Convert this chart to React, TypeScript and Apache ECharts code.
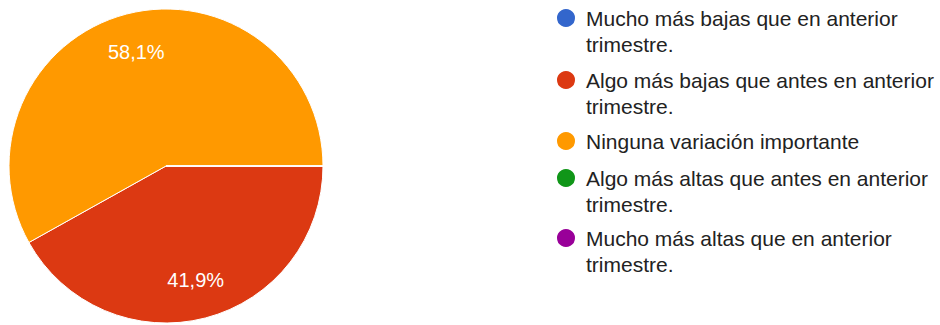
import React, { useEffect, useRef } from "react";
import * as echarts from "echarts";

const categories = [
  "Mucho más bajas que en anterior trimestre.",
  "Algo más bajas que antes en anterior trimestre.",
  "Ninguna variación importante",
  "Algo más altas que antes en anterior trimestre.",
  "Mucho más altas que en anterior trimestre.",
];
const percents = [0, 41.9, 58.1, 0, 0];
const colors = ["#3366cc", "#dc3912", "#ff9900", "#109618", "#990099"];

const FONT = 'Arial, "Liberation Sans", sans-serif';
const LH = 26;
const legendIconCenters = [18, 80, 141, 178, 238];

const wrapName = (n: string) => n.replace(" trimestre.", "\ntrimestre.");

export default function App() {
  const ref = useRef<HTMLDivElement>(null);
  useEffect(() => {
    if (!ref.current) return;
    const chart = echarts.init(ref.current, undefined, { renderer: "svg" });
    const data = categories.map((name, i) => ({ name, value: percents[i] }));
    const legends = categories.map((name, i) => {
      const lines = wrapName(name).split("\n").length;
      return {
        data: [name],
        orient: "vertical",
        left: 555,
        top: legendIconCenters[i] - (2 * lines - 1) * (LH / 2),
        padding: 0,
        icon: "circle",
        itemWidth: 20,
        itemHeight: 20,
        selectedMode: false,
        formatter: (n: string) => wrapName(n),
        textStyle: {
          color: "#222",
          fontSize: 21,
          fontFamily: FONT,
          lineHeight: LH,
          padding: [(lines - 1) * LH, 0, 0, 5],
          rich: { a: { fontSize: 21, fontFamily: FONT, color: "#222", lineHeight: LH } },
        },
      };
    });
    chart.setOption({
      animation: false,
      color: colors,
      legend: legends,
      series: [
        {
          type: "pie",
          center: [166, 166],
          radius: [0, 157],
          startAngle: 0,
          clockwise: true,
          avoidLabelOverlap: false,
          silent: true,
          label: { show: false },
          labelLine: { show: false },
          itemStyle: { borderColor: "#fff", borderWidth: 1 },
          data,
        },
        {
          type: "pie",
          center: [166, 166],
          radius: [73, 157],
          startAngle: 0,
          clockwise: true,
          avoidLabelOverlap: false,
          silent: true,
          itemStyle: { color: "rgba(0,0,0,0)" },
          labelLine: { show: false },
          label: {
            show: true,
            position: "inside",
            color: "#fff",
            fontSize: 20,
            fontFamily: FONT,
            formatter: (p: any) =>
              p.value > 0 ? p.percent.toFixed(1).replace(".", ",") + "%" : "",
          },
          data,
        },
      ],
    });
    return () => chart.dispose();
  }, []);
  return (
    <div
      ref={ref}
      style={{ position: "absolute", left: 0, top: 0, width: 940, height: 325 }}
    />
  );
}
